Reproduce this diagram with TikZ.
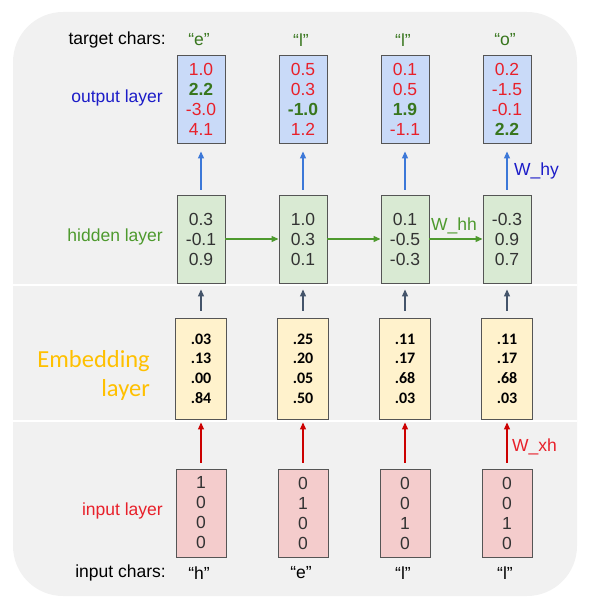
\documentclass[tikz,border=0pt]{standalone}
\usepackage{fontspec}
\setmainfont{Liberation Sans}
\newfontfamily\carlito{Carlito}
\usetikzlibrary{arrows.meta}
\definecolor{bgc}{HTML}{F1F1F1}
\definecolor{boxline}{HTML}{555555}
\definecolor{outfill}{HTML}{C9DAF8}
\definecolor{hidfill}{HTML}{D9EAD3}
\definecolor{embfill}{HTML}{FFF2CC}
\definecolor{inpfill}{HTML}{F4CCCC}
\definecolor{numred}{HTML}{E8202A}
\definecolor{numgreen}{HTML}{38761D}
\definecolor{labblue}{HTML}{1C1CC8}
\definecolor{arrblue}{HTML}{3C78D8}
\definecolor{labgreen}{HTML}{4E9A2E}
\definecolor{arrgreen}{HTML}{4E9A2E}
\definecolor{slate}{HTML}{44546A}
\definecolor{arrred}{HTML}{CC0000}
\definecolor{embgold}{HTML}{FFC000}
\definecolor{hidtext}{HTML}{333333}
\newcommand\rn[1]{\textcolor{numred}{#1}}
\newcommand\gn[1]{\textcolor{numgreen}{\textbf{#1}}}
\begin{document}
\begin{tikzpicture}[x=1pt,y=-1pt,
  box/.style={draw=boxline, line width=0.9pt, inner sep=0pt, align=center,
    font=\fontsize{17.5}{20}\selectfont},
  obox/.style={box, fill=outfill, minimum width=48pt, minimum height=88pt},
  hbox/.style={box, fill=hidfill, minimum width=48pt, minimum height=88pt, text=hidtext},
  ebox/.style={box, fill=embfill, minimum width=51pt, minimum height=101pt,
    font=\carlito\bfseries\fontsize{16}{19.7}\selectfont},
  ibox/.style={box, fill=inpfill, minimum width=50pt, minimum height=88pt, text=hidtext},
  lab/.style={font=\fontsize{17.5}{20}\selectfont, inner sep=0pt},
  tip/.style={-{Triangle[length=7pt,width=6pt]}, line width=1.1pt},
  uparrow/.style={tip, draw=arrblue, fill=arrblue},
  hharrow/.style={tip, draw=arrgreen, fill=arrgreen},
  emarrow/.style={tip, draw=slate, fill=slate},
  inarrow/.style={tip, draw=arrred, fill=arrred},
  sepline/.style={draw=white, line width=1.1pt}]
\useasboundingbox (0,0) rectangle (590,604);
\fill[bgc, rounded corners=50pt] (13,12) rectangle (577,596);
\draw[sepline] (13,285) -- (577,285);
\draw[sepline] (13,421) -- (577,421);

% output layer
\node[obox] (o1) at (201,99) {\rn{1.0}\\\gn{2.2}\\\rn{-3.0}\\\rn{4.1}};
\node[obox] (o2) at (303,99) {\rn{0.5}\\\rn{0.3}\\\gn{-1.0}\\\rn{1.2}};
\node[obox] (o3) at (405,99) {\rn{0.1}\\\rn{0.5}\\\gn{1.9}\\\rn{-1.1}};
\node[obox] (o4) at (507,99) {\rn{0.2}\\\rn{-1.5}\\\rn{-0.1}\\\gn{2.2}};

% hidden layer
\node[hbox] (h1) at (201,239) {0.3\\-0.1\\0.9};
\node[hbox] (h2) at (303,239) {1.0\\0.3\\0.1};
\node[hbox] (h3) at (405,239) {0.1\\-0.5\\-0.3};
\node[hbox] (h4) at (507,239) {-0.3\\0.9\\0.7};

% embedding layer
\node[ebox] (e1) at (201,368.5) {.03\\.13\\.00\\.84};
\node[ebox] (e2) at (303,368.5) {.25\\.20\\.05\\.50};
\node[ebox] (e3) at (405,368.5) {.11\\.17\\.68\\.03};
\node[ebox] (e4) at (507,368.5) {.11\\.17\\.68\\.03};

% input layer
\node[ibox] (i1) at (201,513) {1\\0\\0\\0};
\node[ibox] (i2) at (303,513) {0\\1\\0\\0};
\node[ibox] (i3) at (405,513) {0\\0\\1\\0};
\node[ibox] (i4) at (507,513) {0\\0\\1\\0};

% labels
\node[lab, anchor=east] (tc) at (166,40) {target chars:};
\node[lab, text=numgreen] (t1) at (199,40) {“e”};
\node[lab, text=numgreen] (t2) at (301,40) {“l”};
\node[lab, text=numgreen] (t3) at (403,40) {“l”};
\node[lab, text=numgreen] (t4) at (505,40) {“o”};
\node[lab, anchor=east, text=labblue] (ol) at (163,98) {output layer};
\node[lab, anchor=east, text=labgreen] (hl) at (163,237) {hidden layer};
\node[anchor=east, align=right, inner sep=0pt, text=embgold,
  font=\carlito\fontsize{24.5}{29}\selectfont] (el) at (150,375) {Embedding\\layer};
\node[lab, anchor=east, text=numred] (il) at (163,511) {input layer};
\node[lab, anchor=east] (ic) at (166,573) {input chars:};
\node[lab] (c1) at (199,573) {“h”};
\node[lab] (c2) at (301,573) {“e”};
\node[lab] (c3) at (403,573) {“l”};
\node[lab] (c4) at (505,573) {“l”};

% connectors
\foreach \k in {1,2,3,4}{
  \draw[uparrow, shorten <=5pt, shorten >=8pt] (h\k.north) -- (o\k.south);
  \draw[emarrow, shorten <=7pt, shorten >=6pt] (e\k.north) -- (h\k.south);
  \draw[inarrow, shorten <=6pt, shorten >=3pt] (i\k.north) -- (e\k.south);
}
\draw[hharrow] (h1.east) -- (h2.west);
\draw[hharrow] (h2.east) -- (h3.west);
\draw[hharrow] (h3.east) -- (h4.west);

\node[lab, anchor=west, text=labblue] (why) at (514,171) {W\_hy};
\node[lab, text=labgreen] (whh) at (454,226) {W\_hh};
\node[lab, anchor=west, text=numred] (wxh) at (512,447) {W\_xh};
\end{tikzpicture}
\end{document}
